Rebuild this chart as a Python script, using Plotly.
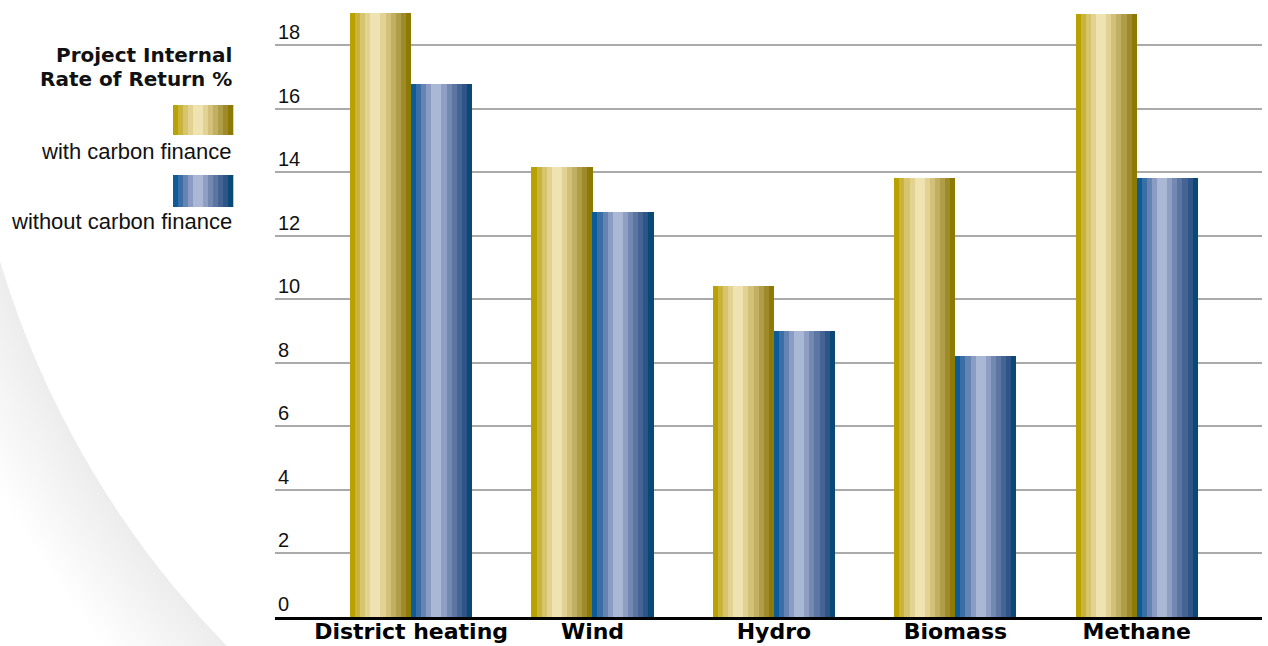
import plotly.graph_objects as go

# ---------------- data ----------------
categories = ["District heating", "Wind", "Hydro", "Biomass", "Methane"]
with_carbon = [19.0, 14.15, 10.4, 13.8, 18.97]
without_carbon = [16.78, 12.75, 9.0, 8.2, 13.8]
series_names = ["with carbon finance", "without carbon finance"]
y_ticks = [0, 2, 4, 6, 8, 10, 12, 14, 16, 18]
title_lines = ["Project Internal", "Rate of Return %"]

# ---------------- styles ----------------
W, H = 1268, 646
L, R_, T, B = 275, 6, 0, 29
PW, PH = W - L - R_, H - T - B

gold = ["#b9a200", "#c8b33c", "#d6c56c", "#e2d392", "#efe3b1", "#efe3b1",
        "#e2d294", "#d3c17a", "#c2b062", "#b09d48", "#9e8a2a", "#8c7a04"]
blue = ["#0b5c99", "#3c6ea6", "#6583b3", "#8a9cc2", "#aab8d6", "#aab8d6",
        "#8e9fc3", "#7489b1", "#5d75a1", "#456494", "#2d5588", "#0a4876"]

bar_w = 0.336
n = len(gold)
sw = bar_w / n
idx = list(range(len(categories)))

fig = go.Figure()
for vals, cols, start in [(with_carbon, gold, -bar_w), (without_carbon, blue, 0.0)]:
    for k, c in enumerate(cols):
        off = start + (k + 0.5) * sw
        fig.add_trace(go.Bar(
            x=[i + off for i in idx], y=vals, width=sw * 1.04,
            marker=dict(color=c, line=dict(width=0)),
            showlegend=False, hoverinfo="skip"))


def px(x):
    return (x - L) / PW


def py(y):
    return (T + PH - y) / PH


shapes = []
# soft background arc at left: stacked translucent discs, then a white disc
cx, cy, R = 900, -10, 940
steps = 18
for i in range(steps, 0, -1):
    r = R + i * 5
    shapes.append(dict(type="circle", xref="paper", yref="paper",
                       x0=px(cx - r), x1=px(cx + r), y0=py(cy + r), y1=py(cy - r),
                       line=dict(width=0), fillcolor="rgba(212,212,232,0.026)",
                       layer="below"))
shapes.append(dict(type="circle", xref="paper", yref="paper",
                   x0=px(cx - R), x1=px(cx + R), y0=py(cy + R), y1=py(cy - R),
                   line=dict(width=0), fillcolor="white", layer="below"))

# legend swatches
for cols, (y0, y1) in [(gold, (105, 135)), (blue, (175, 207))]:
    x0, x1 = 173, 233
    w = (x1 - x0) / len(cols)
    for k, c in enumerate(cols):
        shapes.append(dict(type="rect", xref="paper", yref="paper",
                           x0=px(x0 + k * w), x1=px(x0 + (k + 1) * w + 0.3),
                           y0=py(y1), y1=py(y0), fillcolor=c, line=dict(width=0)))

annotations = []
for txt, yc in zip(title_lines, [55, 79]):
    annotations.append(dict(text=txt, xref="paper", yref="paper", x=px(234), y=py(yc),
                            xanchor="right", yanchor="middle", showarrow=False,
                            font=dict(family="DejaVu Sans", size=20, color="#111111", weight="bold")))
for txt, yc in zip(series_names, [151, 222]):
    annotations.append(dict(text=txt, xref="paper", yref="paper", x=px(234), y=py(yc),
                            xanchor="right", yanchor="middle", showarrow=False,
                            font=dict(family="Liberation Sans, Arial", size=22, color="#111111")))

fig.update_layout(
    width=W, height=H, autosize=False,
    margin=dict(l=L, r=R_, t=T, b=B, pad=0),
    paper_bgcolor="white", plot_bgcolor="rgba(0,0,0,0)",
    barmode="overlay", bargap=0,
    shapes=shapes, annotations=annotations,
    xaxis=dict(range=[-0.75, 4.69], tickvals=idx, ticktext=categories,
               showgrid=False, zeroline=False, showline=True, linecolor="black",
               linewidth=3, ticks="", automargin=False, ticklabelstandoff=-7,
               tickfont=dict(family="DejaVu Sans", size=22, color="black", weight="bold")),
    yaxis=dict(range=[0, PH / 31.78], tickvals=y_ticks, showgrid=True,
               gridcolor="#aaaaaa", gridwidth=2, zeroline=False, showline=False,
               ticks="", ticklabelposition="inside", ticklabelshift=-13,
               automargin=False,
               tickfont=dict(family="Liberation Sans, Arial", size=20, color="#111111")),
)

fig.write_html("out.html")
